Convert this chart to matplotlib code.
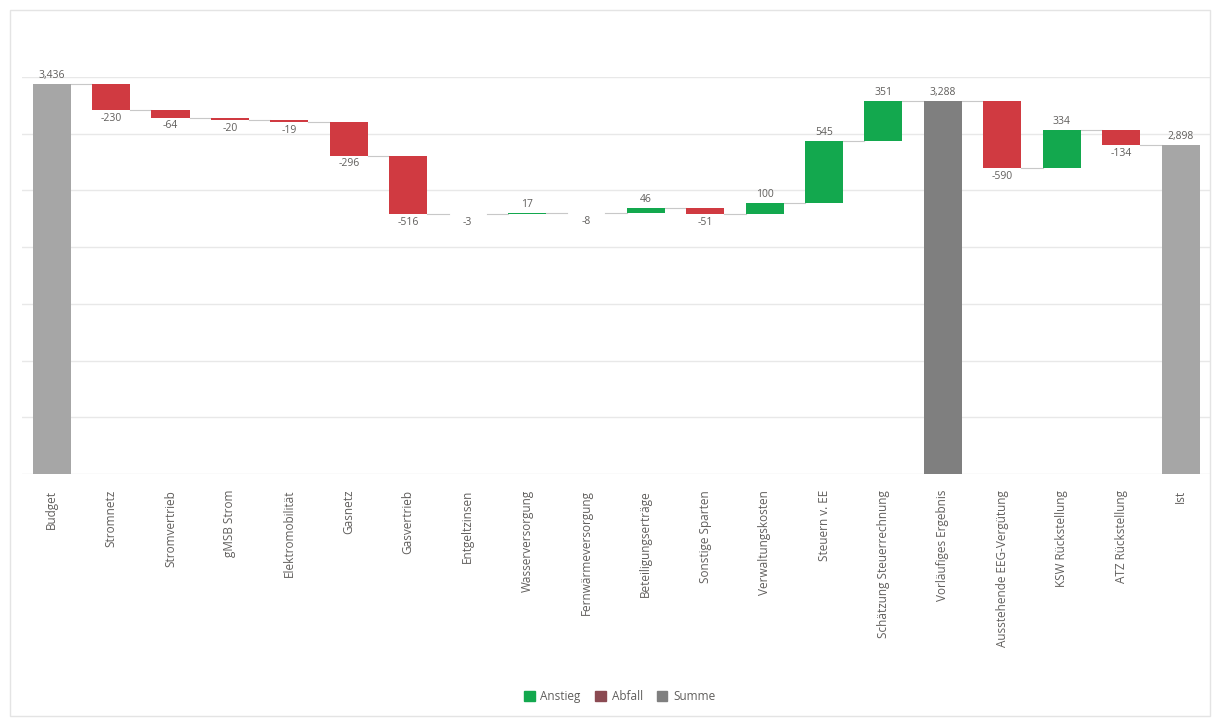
import matplotlib.pyplot as plt
from matplotlib.patches import Patch, Rectangle

plt.rcParams['font.family'] = ['Open Sans', 'DejaVu Sans']

categories = ["Budget", "Stromnetz", "Stromvertrieb", "gMSB Strom", "Elektromobilität",
              "Gasnetz", "Gasvertrieb", "Entgeltzinsen", "Wasserversorgung",
              "Fernwärmeversorgung", "Beteiligungserträge", "Sonstige Sparten",
              "Verwaltungskosten", "Steuern v. EE", "Schätzung Steuerrechnung",
              "Vorläufiges Ergebnis", "Ausstehende EEG-Vergütung", "KSW Rückstellung",
              "ATZ Rückstellung", "Ist"]
# None = total bar, computed from the running sum
changes = [3436, -230, -64, -20, -19, -296, -516, -3, 17, -8, 46, -51, 100, 545, 351,
           None, -590, 334, -134, None]
total_shade = ["#a6a6a6"] + [None] * 14 + ["#7f7f7f"] + [None] * 3 + ["#a6a6a6"]

c_up = "#13a84e"
c_down = "#d03a41"
c_grid = "#e8e8e8"
c_text = "#605e5c"

fig = plt.figure(figsize=(12.2, 7.22), dpi=100)
fig.patches.append(Rectangle((0.008, 0.008), 0.984, 0.978, transform=fig.transFigure,
                             fill=False, edgecolor="#e4e4e4", lw=1.0))
ax = fig.add_axes([0.018, 0.3435, 0.974, 0.5499])

level = 0
prev_top = None
for i, d in enumerate(changes):
    if i == 0:
        bottom, height, col = 0, d, total_shade[0]
        level = d
        label, above = f"{d:,}", True
    elif d is None:
        bottom, height, col = 0, level, total_shade[i]
        label, above = f"{level:,}", True
    else:
        bottom = level if d > 0 else level + d
        height = abs(d)
        col = c_up if d > 0 else c_down
        label, above = f"{d:,}", d > 0
        level += d
    ax.bar(i, height, bottom=bottom, width=0.64, color=col, zorder=3)
    if i > 0:
        ax.plot([i - 1 + 0.32, i - 0.32], [prev_top, prev_top], color="#c8c8c8",
                lw=0.8, zorder=2)
    prev_top = level
    y = bottom + height + 25 if above else bottom - 25
    ax.text(i, y, label, ha="center", va="bottom" if above else "top",
            fontsize=7.5, color=c_text, zorder=4)

ax.set_xlim(-0.5, len(categories) - 0.5)
ax.set_ylim(0, 3500)
ax.set_yticks(range(0, 3501, 500))
ax.yaxis.grid(True, color=c_grid, lw=1.0, zorder=0)
ax.tick_params(axis="y", left=False, labelleft=False)
ax.tick_params(axis="x", bottom=False, pad=8)
ax.set_xticks(range(len(categories)))
ax.set_xticklabels(categories, rotation=90, fontsize=8.5, color=c_text)
for s in ax.spines.values():
    s.set_visible(False)

handles = [Patch(color=c_up, label="Anstieg"),
           Patch(color="#8b4a52", label="Abfall"),
           Patch(color="#7f7f7f", label="Summe")]
fig.legend(handles=handles, loc="center", bbox_to_anchor=(0.508, 0.035), ncol=3,
           frameon=False, fontsize=8.5, labelcolor=c_text, handlelength=0.9,
           handleheight=0.9, columnspacing=1.2, handletextpad=0.5)

fig.savefig("out.png", dpi=100)
